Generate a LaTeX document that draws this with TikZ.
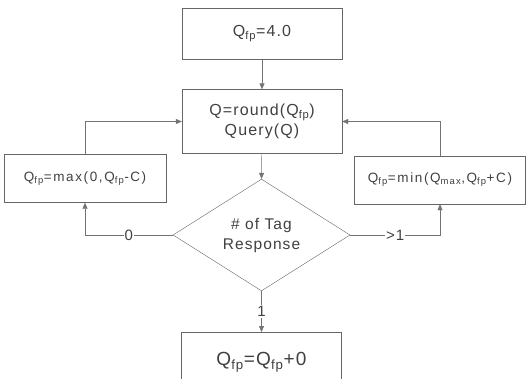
\documentclass[tikz,border=0pt]{standalone}
\usepackage{fontspec}
\setmainfont{Liberation Sans}
\newfontfamily\spaced[LetterSpace=7]{Liberation Sans}
\newfontfamily\widespaced[LetterSpace=12]{Liberation Sans}
\usetikzlibrary{arrows.meta, shapes.geometric, positioning}

\newcommand{\fp}{\textsubscript{fp}}

\begin{document}
\begin{tikzpicture}[x=1pt, y=-1pt, >={Triangle[length=6pt,width=5pt]},
    line/.style={draw=black!55, thin},
    box/.style={draw=black!60, thin, text=black!75, align=center, inner sep=0pt,
                font=\spaced\fontsize{16}{20}\selectfont},
    sidebox/.style={box, minimum width=162pt, minimum height=48pt,
                font=\widespaced\fontsize{13.5}{14}\selectfont},
    lbl/.style={fill=white, inner sep=1pt, text=black!75, font=\spaced\fontsize{15}{16}\selectfont}]
    \useasboundingbox (0,0) rectangle (526,379);

    \node[box, minimum width=160pt, minimum height=51pt] (init) at (262,33.5) {Q\fp=4.0};
    \node[box, minimum width=160pt, minimum height=64pt] (query) at (262,121.5)
        {Q=round(Q\fp)\\Query(Q)};
    \node[box, shape=diamond, minimum width=177pt, minimum height=96pt,
          font=\spaced\fontsize{15.5}{20}\selectfont] (resp) at (261.5,235)
        {\# of Tag\\Response};
    \node[sidebox] (dec) at (85,178.5) {Q\fp=max(0,Q\fp-C)};
    \node[sidebox, minimum width=171pt] (inc) at (440,180) {Q\fp=min(Q\textsubscript{max},Q\fp+C)};
    \node[box, minimum width=160pt, minimum height=60pt, anchor=north,
          font=\spaced\fontsize{19}{22}\selectfont] (keep) at (261.5,332) {\raisebox{-4pt}{Q\fp=Q\fp+0}};

    \draw[line,->] (init) -- (query);
    \draw[line,->] (query) -- (resp.north);
    \draw[line,->] (resp.west) -- node[lbl] {0} (resp.west -| dec.south) -- (dec.south);
    \draw[line,->] (resp.east) -- node[lbl] {>1} (resp.east -| inc.south) -- (inc.south);
    \draw[line,->] (resp.south) -- node[lbl] {1} (keep.north);
    \draw[line,->] (dec.north) |- (query.west);
    \draw[line,->] (inc.north) |- (query.east);
\end{tikzpicture}
\end{document}
